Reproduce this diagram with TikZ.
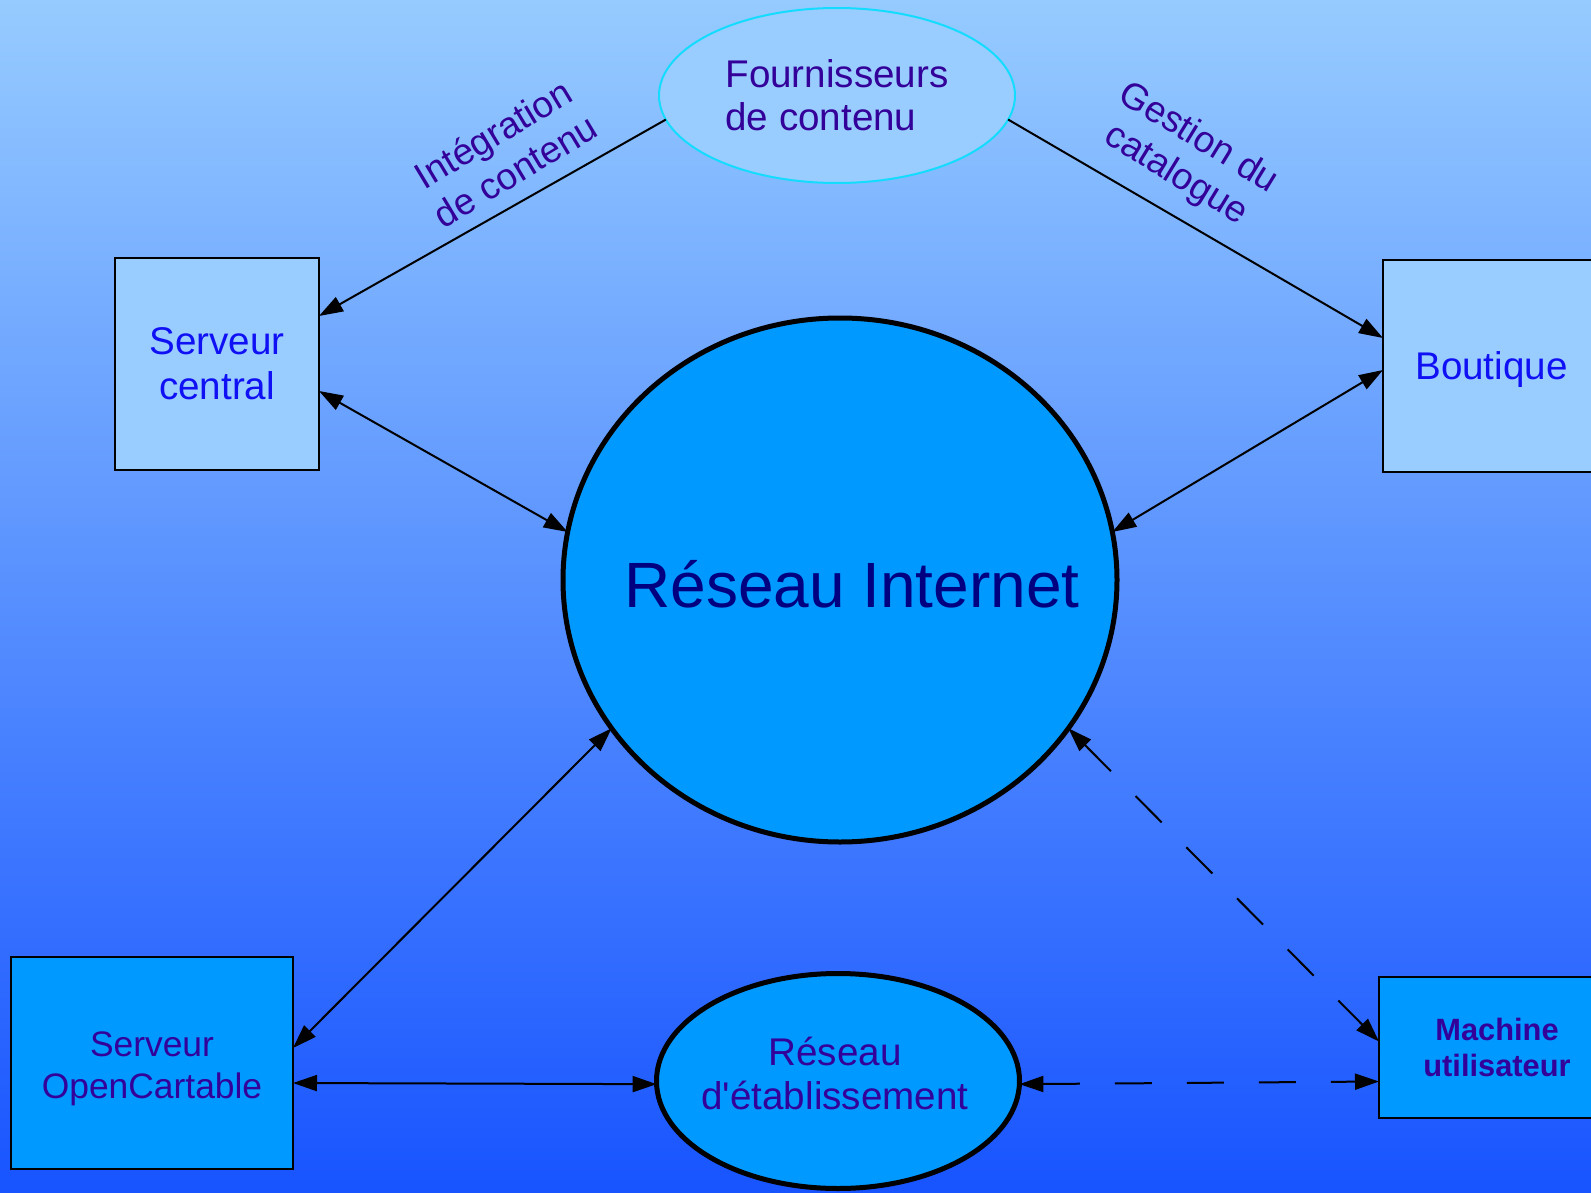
\documentclass[tikz,border=0pt]{standalone}
\usepackage{fontspec}
\setmainfont{Liberation Sans}
\usetikzlibrary{arrows.meta,shapes.geometric}
\definecolor{bgtop}{RGB}{150,203,255}
\definecolor{bgbot}{RGB}{24,84,255}
\definecolor{lightfill}{RGB}{153,204,255}
\definecolor{darkfill}{RGB}{0,153,255}
\definecolor{indigo}{RGB}{51,0,153}
\definecolor{brightblue}{RGB}{16,16,245}
\definecolor{navy}{RGB}{0,0,128}
\definecolor{cyanline}{RGB}{20,220,255}
\begin{document}
\begin{tikzpicture}[x=0.5pt,y=-0.5pt,
  box/.style={rectangle, draw=black, line width=1pt, inner sep=0pt, outer sep=0pt, align=center},
  lightbox/.style={box, fill=lightfill, text=brightblue, font=\fontsize{19.3}{22.5}\selectfont},
  darkbox/.style={box, fill=darkfill, text=indigo},
  thickell/.style={ellipse, draw=black, line width=2.5pt, fill=darkfill, inner sep=0pt, outer sep=0pt},
  tip/.tip={Triangle[length=12pt,width=8pt]},
  link/.style={line width=1pt, tip-tip},
  oneway/.style={line width=1pt, -tip},
  dlink/.style={link, dash pattern=on 18.5pt off 17.5pt},
  rotlabel/.style={text=indigo, font=\fontsize{18.5}{21.5}\selectfont, align=center, inner sep=0pt}
]
\useasboundingbox (0,0) rectangle (1591,1193);
\shade[top color=bgtop, bottom color=bgbot] (0,0) rectangle (1591,1193);

% nodes
\node[lightbox, minimum width=102pt, minimum height=106pt] (sc) at (217,364) {Serveur\\central};
\node[lightbox, minimum width=108.5pt, minimum height=106pt, text depth=0pt] (bt) at (1491.5,366) {Boutique};
\node[ellipse, draw=cyanline, line width=1pt, fill=lightfill, text=indigo, inner sep=0pt, outer sep=0pt,
      minimum width=178pt, minimum height=87.5pt, align=left,
      font=\fontsize{19.3}{21.5}\selectfont] (fo) at (837,95.5) {Fournisseurs\\de contenu};
\node[thickell, minimum width=277pt, minimum height=262pt] (inet) at (840,580) {};
\node[text=navy, font=\fontsize{32}{38}\selectfont, inner sep=0pt] (inetlabel) at (852,584) {Réseau Internet};
\node[darkbox, minimum width=141pt, minimum height=106pt, font=\fontsize{17.7}{21}\selectfont] (oc) at (152,1063) {};
\node[text=indigo, align=center, inner sep=0pt, font=\fontsize{17.7}{21}\selectfont] (oclabel) at (152,1069) {Serveur\\OpenCartable};
\node[thickell, minimum width=181.5pt, minimum height=107.5pt] (re) at (838,1081) {};
\node[text=indigo, align=center, inner sep=0pt, font=\fontsize{19.3}{22}\selectfont] (relabel) at (835,1073) {Réseau\\d\textquotesingle établissement};
\node[darkbox, minimum width=118pt, minimum height=70.5pt, font=\bfseries\fontsize{15.4}{18}\selectfont] (mu) at (1497,1047.5) {Machine\\utilisateur};

% rotated labels
\node[rotlabel, rotate=31] (lint) at (504,152) {Intégration\\de contenu};
\node[rotlabel, rotate=-31.5] (lgest) at (1187,157) {Gestion du\\catalogue};

% connectors
\draw[oneway] (fo.188.7) -- ([yshift=24pt]sc.east);
\draw[oneway] (fo.352.7) -- ([yshift=14pt]bt.west);
\draw[link] ([yshift=-13.5pt]sc.east) -- (inet.170.4);
\draw[link] ([yshift=-2pt]bt.west) -- (inet.10.5);
\draw[link] ([yshift=7.5pt]oc.east) -- (inet.213);
\draw[link] ([yshift=-10pt]oc.east) -- (re.181.5);
\draw[dlink] (inet.327) -- ([yshift=3pt]mu.west);
\draw[dlink] (re.359) -- ([yshift=-17pt]mu.west);
\end{tikzpicture}
\end{document}
